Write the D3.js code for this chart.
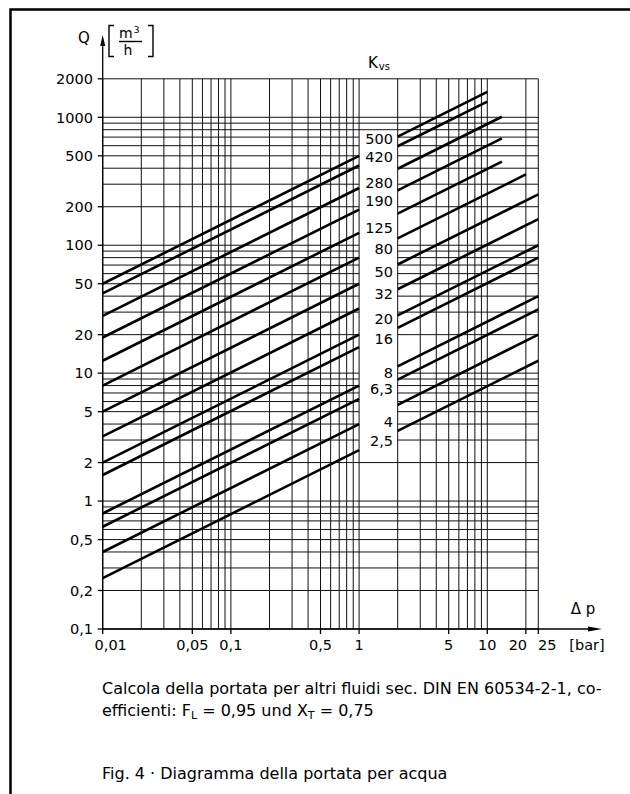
<!DOCTYPE html>
<html lang="it">
<head>
<meta charset="utf-8" />
<script src="https://cdn.jsdelivr.net/npm/d3@7"></script>
<style>
  body { margin: 0; background: #fff; }
  svg { display: block; }
  text { font-family: "DejaVu Sans", sans-serif; fill: #000; }
</style>
</head>
<body>
<div id="chart"></div>
<script>
// Kvs lines: Q = Kvs * sqrt(dp); left part 0.01..1 bar, right part 2..end bar
var kvs = [500, 420, 280, 190, 125, 80, 50, 32, 20, 16, 8, 6.3, 4, 2.5];
var kvsLabels = ["500", "420", "280", "190", "125", "80", "50", "32", "20", "16", "8", "6,3", "4", "2,5"];
var endDp = [10, 10, 13, 13, 13, 20, 25, 25, 25, 25, 25, 25, 25, 25];
// flow value where each Kvs label sits inside the gap
var labelQ = [678, 490, 310, 222, 136, 93.5, 61.5, 41.4, 26.4, 18.4, 10, 7.6, 4.2, 2.95];

var yTicks = [0.1, 0.2, 0.5, 1, 2, 5, 10, 20, 50, 100, 200, 500, 1000, 2000];
var yTickLabels = ["0,1", "0,2", "0,5", "1", "2", "5", "10", "20", "50", "100", "200", "500", "1000", "2000"];
var xTicks = [0.01, 0.05, 0.1, 0.5, 1, 5, 10, 20, 25];
var xTickLabels = ["0,01", "0,05", "0,1", "0,5", "1", "5", "10", "20", "25"];
var xLabelShift = [8, 0, 0, 0, 0, 0, 0, -8, 9];

var W = 630, H = 794;
var svg = d3.select("#chart").append("svg").attr("width", W).attr("height", H);

var x = d3.scaleLog().domain([0.01, 25]).range([102.7, 538.3]);
var y = d3.scaleLog().domain([0.1, 2000]).range([629, 78.8]);

// frame
svg.append("path")
  .attr("d", "M10.5,794 L10.5,9.5 L630,9.5")
  .attr("fill", "none").attr("stroke", "#000").attr("stroke-width", 2.5);

// ---- grid ----
var xGrid = x.ticks().concat([25]);
var yGrid = y.ticks();
var grid = svg.append("g").attr("stroke", "#111").attr("stroke-width", 1);

grid.selectAll("line.h").data(yGrid).enter().append("line")
  .attr("class", "h")
  .attr("x1", x(0.01)).attr("x2", x(25))
  .attr("y1", d => y(d)).attr("y2", d => y(d));

// white gap for Kvs labels between 1 and 2 bar
svg.append("rect")
  .attr("x", x(1)).attr("width", x(2) - x(1))
  .attr("y", y(770)).attr("height", y(2.25) - y(770))
  .attr("fill", "#fff");

var vgrid = svg.append("g").attr("stroke", "#111").attr("stroke-width", 1);
vgrid.selectAll("line").data(xGrid).enter().append("line")
  .attr("x1", d => x(d)).attr("x2", d => x(d))
  .attr("y1", y(0.1)).attr("y2", y(2000));

// ---- axes ----
var ax = svg.append("g").attr("stroke", "#000").attr("stroke-width", 1.3);
ax.append("line").attr("x1", x(0.01)).attr("x2", 592).attr("y1", y(0.1)).attr("y2", y(0.1));
ax.append("line").attr("x1", x(0.01)).attr("x2", x(0.01)).attr("y1", y(0.1)).attr("y2", 44);
svg.append("path").attr("d", `M${x(0.01)},35 L${x(0.01) - 2.5},46 L${x(0.01) + 2.5},46 Z`);
svg.append("path").attr("d", `M602,${y(0.1)} L588,${y(0.1) - 2.5} L588,${y(0.1) + 2.5} Z`);

// y ticks + labels
ax.selectAll("line.yt").data(yTicks).enter().append("line")
  .attr("class", "yt")
  .attr("x1", x(0.01) - 5).attr("x2", x(0.01))
  .attr("y1", d => y(d)).attr("y2", d => y(d));
svg.selectAll("text.yl").data(yTicks).enter().append("text")
  .attr("class", "yl")
  .attr("x", 93).attr("y", d => y(d))
  .attr("dy", "0.36em")
  .attr("text-anchor", "end")
  .attr("font-size", 14.5)
  .text((d, i) => yTickLabels[i]);

// x ticks + labels
ax.selectAll("line.xt").data(xTicks).enter().append("line")
  .attr("class", "xt")
  .attr("x1", d => x(d)).attr("x2", d => x(d))
  .attr("y1", y(0.1)).attr("y2", y(0.1) + 5);
svg.selectAll("text.xl").data(xTicks).enter().append("text")
  .attr("class", "xl")
  .attr("x", (d, i) => x(d) + xLabelShift[i]).attr("y", 650)
  .attr("text-anchor", "middle")
  .attr("font-size", 14.5)
  .text((d, i) => xTickLabels[i]);

svg.append("text").attr("x", 587).attr("y", 650).attr("text-anchor", "middle")
  .attr("font-size", 14.5).text("[bar]");
svg.append("text").attr("x", 583).attr("y", 614).attr("text-anchor", "middle")
  .attr("font-size", 15).text("\u0394 p");

// y axis title: Q [m3/h]
svg.append("text").attr("x", 84).attr("y", 43).attr("text-anchor", "middle")
  .attr("font-size", 15).text("Q");
var br = svg.append("g").attr("fill", "none").attr("stroke", "#000").attr("stroke-width", 1.4);
br.append("path").attr("d", "M114,25.5 L109,25.5 L109,56.5 L114,56.5");
br.append("path").attr("d", "M148,25.5 L153,25.5 L153,56.5 L148,56.5");
br.append("line").attr("x1", 119).attr("x2", 142).attr("y1", 41.5).attr("y2", 41.5);
var mt = svg.append("text").attr("x", 119).attr("y", 38).attr("font-size", 14);
mt.append("tspan").text("m");
mt.append("tspan").attr("font-size", 9).attr("dy", -5).attr("dx", 1).text("3");
svg.append("text").attr("x", 128).attr("y", 55).attr("text-anchor", "middle")
  .attr("font-size", 14).text("h");

// Kvs title
var kt = svg.append("text").attr("x", 368).attr("y", 68).attr("font-size", 15);
kt.append("tspan").text("K");
kt.append("tspan").attr("font-size", 10).attr("dx", 1).attr("dy", 2).text("vs");

// ---- Kvs lines ----
var lines = svg.append("g").attr("stroke", "#000").attr("stroke-width", 2.6)
  .attr("stroke-linecap", "butt");
lines.selectAll("line.l").data(kvs).enter().append("line")
  .attr("class", "l")
  .attr("x1", x(0.01)).attr("y1", d => y(d * Math.sqrt(0.01)))
  .attr("x2", x(1)).attr("y2", d => y(d));
lines.selectAll("line.r").data(kvs).enter().append("line")
  .attr("class", "r")
  .attr("x1", x(2)).attr("y1", d => y(d * Math.sqrt(2)))
  .attr("x2", (d, i) => x(endDp[i])).attr("y2", (d, i) => y(d * Math.sqrt(endDp[i])));

svg.selectAll("text.kl").data(labelQ).enter().append("text")
  .attr("class", "kl")
  .attr("x", 393).attr("y", d => y(d))
  .attr("dy", "0.36em")
  .attr("text-anchor", "end")
  .attr("font-size", 14.5)
  .text((d, i) => kvsLabels[i]);

// ---- caption ----
var cap = svg.append("g").attr("font-size", 16);
cap.append("text").attr("x", 102).attr("y", 694)
  .text("Calcola della portata per altri fluidi sec. DIN EN 60534-2-1, co-");
var c2 = cap.append("text").attr("x", 102).attr("y", 716);
c2.append("tspan").text("efficienti: F");
c2.append("tspan").attr("font-size", 11).attr("dy", 3).text("L");
c2.append("tspan").attr("dy", -3).text(" = 0,95 und X");
c2.append("tspan").attr("font-size", 11).attr("dy", 3).text("T");
c2.append("tspan").attr("dy", -3).text(" = 0,75");
cap.append("text").attr("x", 102).attr("y", 779)
  .text("Fig. 4 \u00b7 Diagramma della portata per acqua");
</script>
</body>
</html>
